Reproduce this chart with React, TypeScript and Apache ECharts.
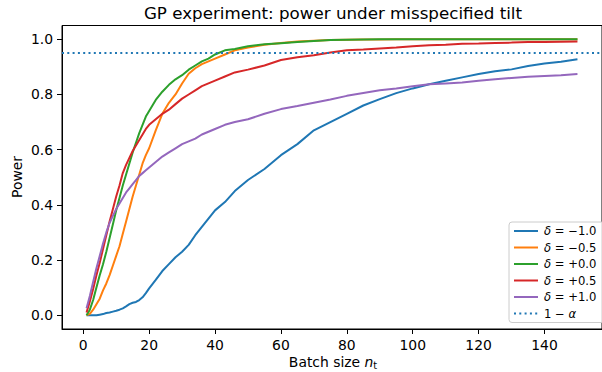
import React, { useEffect, useRef } from "react";
import * as echarts from "echarts";

const batchSizes = [1,2,3,4,5,6,7,8,9,10,11,12,13,14,15,16,17,18,19,20,22,24,26,28,30,32,34,36,38,40,43,46,50,55,60,65,70,75,80,85,90,95,100,105,110,115,120,125,130,135,140,145,150];

const powerDeltaM10 = [0,0,0,0,0.002,0.004,0.008,0.01,0.013,0.016,0.02,0.025,0.032,0.04,0.045,0.048,0.055,0.065,0.08,0.097,0.128,0.16,0.185,0.21,0.23,0.255,0.29,0.32,0.35,0.38,0.41,0.45,0.49,0.53,0.58,0.62,0.67,0.70,0.73,0.76,0.783,0.805,0.822,0.837,0.85,0.862,0.874,0.884,0.891,0.903,0.912,0.919,0.928];
const powerDeltaM05 = [0,0.005,0.02,0.04,0.06,0.09,0.115,0.145,0.18,0.215,0.25,0.295,0.34,0.385,0.43,0.47,0.51,0.55,0.58,0.605,0.67,0.73,0.77,0.80,0.84,0.875,0.895,0.91,0.92,0.93,0.945,0.96,0.97,0.98,0.987,0.992,0.995,0.997,0.998,0.999,0.999,1,1,1,1,1,1,1,1,1,1,1,1];
const powerDeltaP00 = [0,0.02,0.055,0.10,0.145,0.185,0.23,0.28,0.33,0.38,0.425,0.47,0.51,0.55,0.59,0.625,0.66,0.69,0.72,0.74,0.78,0.81,0.835,0.855,0.87,0.89,0.905,0.92,0.93,0.945,0.96,0.965,0.975,0.982,0.986,0.99,0.994,0.997,0.998,0.999,1,1,1,1,1,1,1,1,1,1,1,1,1];
const powerDeltaP05 = [0.01,0.05,0.095,0.145,0.19,0.24,0.29,0.34,0.385,0.43,0.47,0.515,0.545,0.57,0.595,0.615,0.635,0.655,0.675,0.69,0.71,0.73,0.745,0.765,0.785,0.80,0.815,0.83,0.84,0.85,0.865,0.88,0.89,0.905,0.925,0.935,0.942,0.952,0.96,0.963,0.967,0.97,0.975,0.978,0.98,0.984,0.985,0.987,0.988,0.99,0.99,0.991,0.992];
const powerDeltaP10 = [0.025,0.07,0.12,0.17,0.215,0.26,0.30,0.335,0.36,0.385,0.405,0.425,0.445,0.46,0.475,0.49,0.505,0.515,0.525,0.535,0.555,0.575,0.59,0.605,0.62,0.63,0.64,0.655,0.665,0.675,0.69,0.70,0.71,0.73,0.747,0.758,0.77,0.782,0.795,0.805,0.815,0.822,0.83,0.837,0.84,0.843,0.85,0.855,0.86,0.864,0.867,0.87,0.874];

const seriesNames = ["δ = −1.0", "δ = −0.5", "δ = +0.0", "δ = +0.5", "δ = +1.0"];
const seriesColors = ["#1f77b4", "#ff7f0e", "#2ca02c", "#d62728", "#9467bd"];
const seriesValues = [powerDeltaM10, powerDeltaM05, powerDeltaP00, powerDeltaP05, powerDeltaP10];
const targetLevel = 0.95;
const targetName = "1 − α";

const xTicks = [0, 20, 40, 60, 80, 100, 120, 140];
const yTicks = [0, 0.2, 0.4, 0.6, 0.8, 1.0];
const xRange = [-6.45, 157.45];
const yRange = [-0.05, 1.05];

const FONT = "DejaVu Sans";

export default function App() {
  const ref = useRef<HTMLDivElement>(null);
  useEffect(() => {
    if (!ref.current) return;
    const chart = echarts.init(ref.current, null, { renderer: "svg" });
    const lines = seriesValues.map((vals, k) => ({
      name: seriesNames[k],
      type: "line",
      symbol: "none",
      data: batchSizes.map((n, i) => [n, vals[i]]),
      lineStyle: { color: seriesColors[k], width: 2 },
      itemStyle: { color: seriesColors[k] },
      z: 2 + k,
    }));
    const option = {
      animation: false,
      backgroundColor: "#fff",
      textStyle: { fontFamily: FONT },
      grid: { left: 62, top: 25.5, width: 541.5, height: 303.5, show: true, borderColor: "#000", borderWidth: 1, backgroundColor: "transparent" },
      xAxis: {
        type: "value",
        min: xRange[0],
        max: xRange[1],
        axisLine: { show: true, onZero: false, lineStyle: { color: "#000", width: 1 } },
        axisTick: { show: true, length: 5, customValues: xTicks, lineStyle: { color: "#000" } },
        axisLabel: { customValues: xTicks, color: "#000", fontSize: 13.9, fontFamily: FONT, margin: 9 },
        splitLine: { show: false },
      },
      yAxis: {
        type: "value",
        min: yRange[0],
        max: yRange[1],
        axisLine: { show: true, onZero: false, lineStyle: { color: "#000", width: 1 } },
        axisTick: { show: true, length: 5, customValues: yTicks, lineStyle: { color: "#000" } },
        axisLabel: { customValues: yTicks, color: "#000", fontSize: 13.9, fontFamily: FONT, margin: 9, formatter: (v: number) => v.toFixed(1) },
        splitLine: { show: false },
      },
      legend: {
        orient: "vertical",
        left: 509,
        top: 222,
        padding: [3, 8, 3, 4],
        itemWidth: 24,
        itemHeight: 12,
        itemGap: 4.5,
        backgroundColor: "rgba(255,255,255,0.8)",
        borderColor: "#cccccc",
        borderWidth: 1,
        borderRadius: 3,
        itemStyle: { opacity: 0 },
        data: [...seriesNames, targetName],
        formatter: (name: string) => {
          if (name === targetName) return "1 − {i|α}";
          return "{i|δ}" + name.slice(1);
        },
        textStyle: {
          color: "#000",
          fontSize: 11.6,
          fontFamily: FONT,
          padding: [0, 0, 0, 1],
          rich: { i: { fontStyle: "italic", fontSize: 11.6, fontFamily: FONT, color: "#000" } },
        },
      },
      series: [
        ...lines,
        {
          name: targetName,
          type: "line",
          symbol: "none",
          data: [[xRange[0], targetLevel], [xRange[1], targetLevel]],
          lineStyle: { color: "#1f77b4", width: 2, type: [2, 3.3] },
          itemStyle: { color: "#1f77b4" },
          z: 10,
        },
      ],
      graphic: [
        {
          type: "text",
          x: 333,
          y: 13,
          style: { text: "GP experiment: power under misspecified tilt", font: `16.7px ${FONT}`, fill: "#000", textAlign: "center", textVerticalAlign: "middle" },
        },
        {
          type: "text",
          x: 17,
          y: 177,
          rotation: Math.PI / 2,
          style: { text: "Power", font: `13.9px ${FONT}`, fill: "#000", textAlign: "center", textVerticalAlign: "middle" },
        },
        {
          type: "text",
          x: 333,
          y: 362,
          style: {
            text: "Batch size {i|n}{s|t}",
            font: `13.9px ${FONT}`,
            fill: "#000",
            textAlign: "center",
            textVerticalAlign: "middle",
            rich: {
              i: { fontStyle: "italic", fontSize: 13.9, fontFamily: FONT, fill: "#000", lineHeight: 16, verticalAlign: "middle" },
              s: { fontSize: 9.7, fontFamily: FONT, fill: "#000", lineHeight: 16, verticalAlign: "bottom", padding: [3, 0, 0, 0] },
            },
          },
        },
      ],
    };
    chart.setOption(option as any);
    return () => chart.dispose();
  }, []);
  return <div ref={ref} style={{ position: "fixed", left: 0, top: 0, width: 602, height: 372 }} />;
}
